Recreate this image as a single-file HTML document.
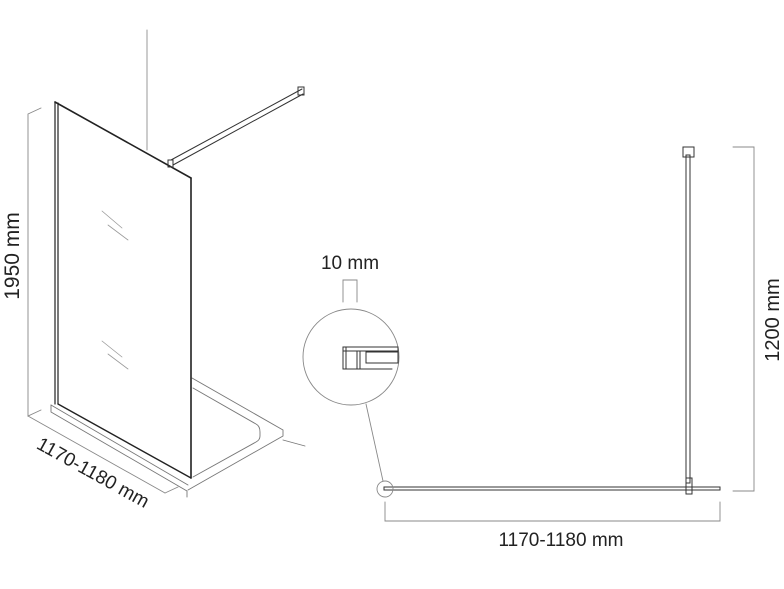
<!DOCTYPE html>
<html><head><meta charset="utf-8"><style>
html,body{margin:0;padding:0;background:#fff;}
svg{display:block;}
text{font-family:"Liberation Sans",sans-serif;fill:#222;}
</style></head><body>
<svg width="784" height="589" viewBox="0 0 784 589" xmlns="http://www.w3.org/2000/svg">
<g fill="none" stroke-linecap="round">
<line x1="147" y1="30" x2="147" y2="150" stroke="#999" stroke-width="1"/>
<g stroke="#777" stroke-width="0.9">
<polyline points="192,378 283,430 283,436 188,490"/>
<path d="M193,388 L256,424 Q260,426 260,432 L260,436 Q260,440 256,442 L193,477"/>
<line x1="283" y1="440" x2="305" y2="446"/>
<polyline points="51,405 51,412 187,491 187,497"/>
<line x1="51" y1="405" x2="188" y2="485"/>
</g>
<g stroke="#222">
<line x1="55" y1="102" x2="55" y2="404" stroke-width="1.2"/>
<line x1="58" y1="103" x2="58" y2="404" stroke-width="1.2"/>
<line x1="55" y1="102" x2="191" y2="178" stroke-width="1.6"/>
<line x1="191" y1="178" x2="191" y2="478" stroke-width="1.6"/>
<line x1="58" y1="404" x2="191" y2="478" stroke-width="1.4"/>
</g>
<g stroke="#999" stroke-width="0.8">
<line x1="102" y1="211" x2="122" y2="228"/><line x1="108" y1="225" x2="128" y2="240"/>
<line x1="102" y1="341" x2="122" y2="357"/><line x1="108" y1="354" x2="128" y2="369"/>
</g>
<g stroke="#333" stroke-width="1">
<line x1="171" y1="160" x2="302" y2="89"/>
<line x1="173" y1="165" x2="303" y2="94"/>
<rect x="168" y="160" width="5" height="7"/>
<rect x="298" y="87" width="6" height="8"/>
</g>
<g stroke="#888" stroke-width="0.9">
<polyline points="41,108 28,114 28,416 41,410"/>
<line x1="28" y1="416" x2="165" y2="493"/>
<line x1="165" y1="493" x2="178" y2="487"/>
</g>
<g stroke="#333" stroke-width="1">
<rect x="686" y="155" width="4" height="328"/>
<rect x="683" y="147" width="11" height="10"/>
<rect x="686" y="478" width="6" height="16"/>
<rect x="384" y="487" width="336" height="3"/>
</g>
<g stroke="#888" stroke-width="0.9">
<polyline points="733,147 754,147 754,491 733,491"/>
<polyline points="385,502 385,521 720,521 720,502"/>
<circle cx="385" cy="489" r="8"/>
<circle cx="351" cy="357" r="48"/>
<line x1="366" y1="404" x2="383" y2="481"/>
<polyline points="343,302 343,280 357,280 357,302"/>
</g>
<g stroke="#333" stroke-width="1">
<rect x="343" y="347" width="55" height="4"/>
<line x1="346" y1="347" x2="346" y2="369"/><line x1="343" y1="351" x2="343" y2="369"/>
<line x1="357" y1="351" x2="357" y2="369"/><line x1="360" y1="351" x2="360" y2="369"/>
<rect x="366" y="352" width="32" height="11"/>
<line x1="343" y1="369" x2="392" y2="369"/>
</g>
</g>
<text x="0" y="0" font-size="21" transform="translate(19,256) rotate(-90)" text-anchor="middle">1950 mm</text>
<text x="0" y="0" font-size="19" transform="translate(90,478) rotate(29)" text-anchor="middle">1170-1180 mm</text>
<text x="350" y="269" font-size="19" text-anchor="middle">10 mm</text>
<text x="561" y="546" font-size="19" text-anchor="middle">1170-1180 mm</text>
<text x="0" y="0" font-size="20" transform="translate(779,320) rotate(-90)" text-anchor="middle">1200 mm</text>
</svg>
</body></html>
